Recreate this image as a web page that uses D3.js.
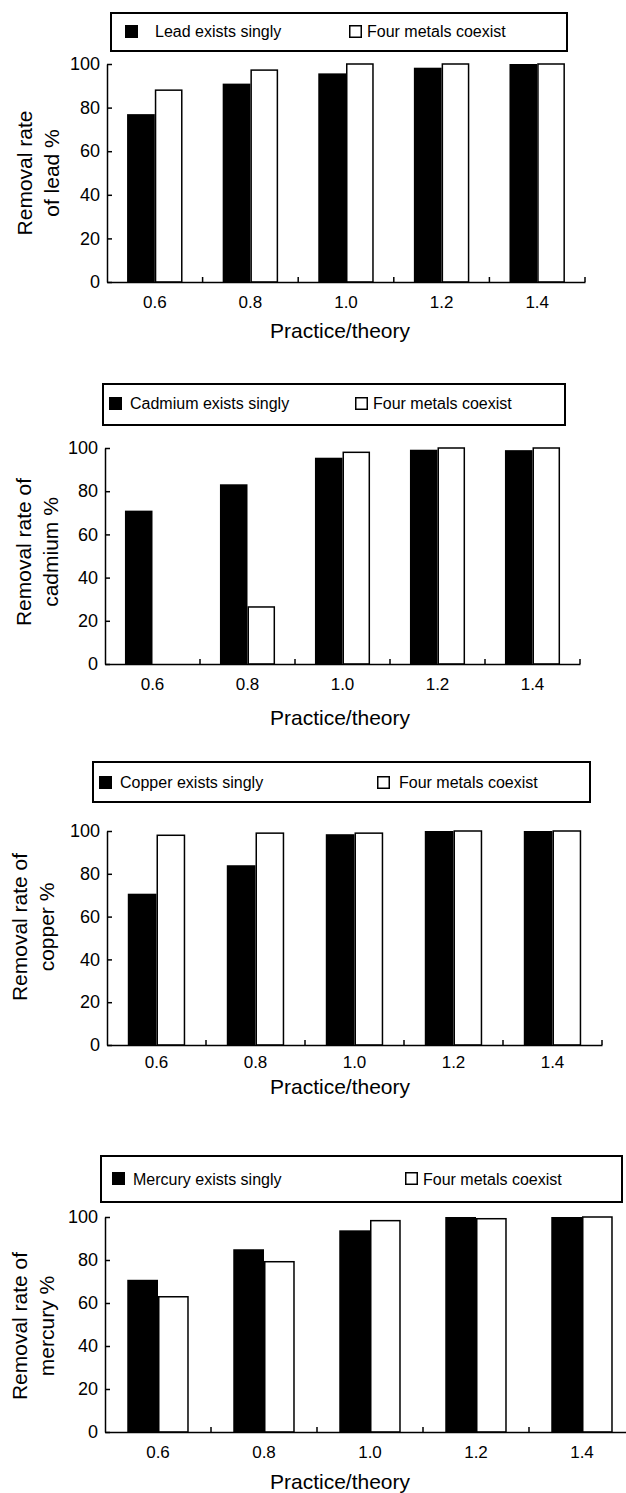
<!DOCTYPE html>
<html>
<head>
<meta charset="utf-8">
<script src="https://cdn.jsdelivr.net/npm/d3@7"></script>
<style>
  body { margin: 0; background: #fff; }
  text { font-family: "Liberation Sans", Arial, sans-serif; fill: #000; }
</style>
</head>
<body>
<script>
// Data
var categories = ["0.6", "0.8", "1.0", "1.2", "1.4"];
var yTicks = [0, 20, 40, 60, 80, 100];
var seriesKeys = ["single", "coexist"];

var leadSingle = [77, 91, 95.7, 98.3, 100];
var leadCoexist = [88, 97.2, 100, 100, 100];
var cadmiumSingle = [71, 83.2, 95.5, 99.2, 99];
var cadmiumCoexist = [0, 26.4, 98, 100, 100];
var copperSingle = [70.7, 84, 98.5, 100, 100];
var copperCoexist = [98, 99, 99, 100, 100];
var mercurySingle = [70.8, 85, 93.8, 100, 100];
var mercuryCoexist = [62.9, 79.2, 98.3, 99.2, 100];

var singleLabels = ["Lead exists singly", "Cadmium exists singly", "Copper exists singly", "Mercury exists singly"];
var coexistLabel = "Four metals coexist";
var yTitles = [
  ["Removal rate", "of lead %"],
  ["Removal rate of", "cadmium %"],
  ["Removal rate of", "copper %"],
  ["Removal rate of", "mercury %"]
];
var xTitle = "Practice/theory";

// Layout of each panel (pixels)
var panels = [
  { single: leadSingle, coexist: leadCoexist,
    left: 107, right: 585, top: 64, bottom: 282,
    box: [111, 567, 13, 51], sq1: 125, t1: 155, sq2: 349, t2: 367, sqY: 25, base: 37,
    ytX: [25, 52], ytY: 173, tickBase: 308, titleBase: 338 },
  { single: cadmiumSingle, coexist: cadmiumCoexist,
    left: 105, right: 580, top: 448, bottom: 664,
    box: [103, 565, 384, 425], sq1: 109, t1: 130, sq2: 355, t2: 373, sqY: 397, base: 409,
    ytX: [24, 51], ytY: 552, tickBase: 690, titleBase: 725 },
  { single: copperSingle, coexist: copperCoexist,
    left: 107, right: 602, top: 831, bottom: 1045,
    box: [93, 590, 762, 802], sq1: 99, t1: 120, sq2: 377, t2: 399, sqY: 776, base: 788,
    ytX: [20, 47], ytY: 927, tickBase: 1068, titleBase: 1094 },
  { single: mercurySingle, coexist: mercuryCoexist,
    left: 105, right: 635, top: 1217, bottom: 1432,
    box: [101, 622, 1156, 1202], sq1: 112, t1: 133, sq2: 405, t2: 423, sqY: 1172, base: 1185,
    ytX: [20, 47], ytY: 1326, tickBase: 1458, titleBase: 1489 }
];

var width = 626, height = 1493;
var svg = d3.select("body").append("svg")
  .attr("width", width)
  .attr("height", height);

panels.forEach(function(p, i) {
  var g = svg.append("g");

  var x = d3.scaleBand()
    .domain(categories)
    .range([p.left, p.right]);

  var xSub = d3.scaleBand()
    .domain(seriesKeys)
    .range([x.bandwidth() * 0.21, x.bandwidth() * 0.79]);

  var y = d3.scaleLinear()
    .domain([0, 100])
    .range([p.bottom, p.top]);

  // legend box
  g.append("rect")
    .attr("x", p.box[0]).attr("y", p.box[2])
    .attr("width", p.box[1] - p.box[0]).attr("height", p.box[3] - p.box[2])
    .attr("fill", "#fff").attr("stroke", "#000").attr("stroke-width", 2);
  g.append("rect")
    .attr("x", p.sq1).attr("y", p.sqY).attr("width", 13).attr("height", 13)
    .attr("fill", "#000");
  g.append("text").attr("x", p.t1).attr("y", p.base)
    .style("font-size", "16px").text(singleLabels[i]);
  g.append("rect")
    .attr("x", p.sq2 + 0.75).attr("y", p.sqY + 0.75).attr("width", 11.5).attr("height", 11.5)
    .attr("fill", "#fff").attr("stroke", "#000").attr("stroke-width", 1.5);
  g.append("text").attr("x", p.t2).attr("y", p.base)
    .style("font-size", "16px").text(coexistLabel);

  // bars
  var rows = categories.map(function(c, j) {
    return { cat: c, single: p.single[j], coexist: p.coexist[j] };
  });

  var groups = g.selectAll(".grp")
    .data(rows)
    .enter().append("g")
    .attr("transform", function(d) { return "translate(" + x(d.cat) + ",0)"; });

  groups.selectAll("rect")
    .data(function(d) {
      return seriesKeys.map(function(k) { return { key: k, value: d[k] }; })
        .filter(function(e) { return e.value > 0; });
    })
    .enter().append("rect")
    .attr("x", function(d) { return xSub(d.key) + (d.key == "coexist" ? 0.75 : 0); })
    .attr("y", function(d) { return y(d.value); })
    .attr("width", function(d) { return xSub.bandwidth() - (d.key == "coexist" ? 1.5 : 0); })
    .attr("height", function(d) { return y(0) - y(d.value); })
    .attr("fill", function(d) { return d.key == "single" ? "#000" : "#fff"; })
    .attr("stroke", function(d) { return d.key == "single" ? "none" : "#000"; })
    .attr("stroke-width", 1.5);

  // y axis, ticks pointing inward
  var yAxis = d3.axisLeft(y)
    .tickValues(yTicks)
    .tickSizeInner(-5)
    .tickSizeOuter(0)
    .tickPadding(7);
  var ya = g.append("g")
    .attr("transform", "translate(" + p.left + ",0)")
    .call(yAxis);
  ya.select(".domain").attr("stroke-width", 1.5);
  ya.selectAll(".tick line").attr("stroke-width", 1.5);
  ya.selectAll("text").style("font-size", "18px").attr("fill", "#000");

  // x axis: labels at band centres, ticks at band edges pointing up
  var xAxis = d3.axisBottom(x).tickSize(0).tickPadding(0);
  var xa = g.append("g")
    .attr("transform", "translate(0," + p.bottom + ")")
    .call(xAxis);
  xa.select(".domain").attr("stroke-width", 1.5);
  xa.selectAll("text")
    .attr("y", p.tickBase - p.bottom).attr("dy", null)
    .style("font-size", "17px").attr("fill", "#000");
  xa.selectAll(".edge")
    .data(categories)
    .enter().append("line")
    .attr("class", "edge")
    .attr("x1", function(d) { return x(d) + x.bandwidth(); })
    .attr("x2", function(d) { return x(d) + x.bandwidth(); })
    .attr("y1", 0).attr("y2", -5)
    .attr("stroke", "#000").attr("stroke-width", 1.5);

  // x title
  g.append("text")
    .attr("x", 340).attr("y", p.titleBase)
    .attr("text-anchor", "middle")
    .style("font-size", "21px")
    .text(xTitle);

  // y title (two lines, rotated)
  var yt = g.append("g")
    .attr("transform", "translate(0," + p.ytY + ") rotate(-90)");
  yTitles[i].forEach(function(line, k) {
    yt.append("text")
      .attr("x", 0).attr("y", p.ytX[k]).attr("dy", "0.35em")
      .attr("text-anchor", "middle")
      .style("font-size", "21px")
      .text(line);
  });
});
</script>
</body>
</html>
